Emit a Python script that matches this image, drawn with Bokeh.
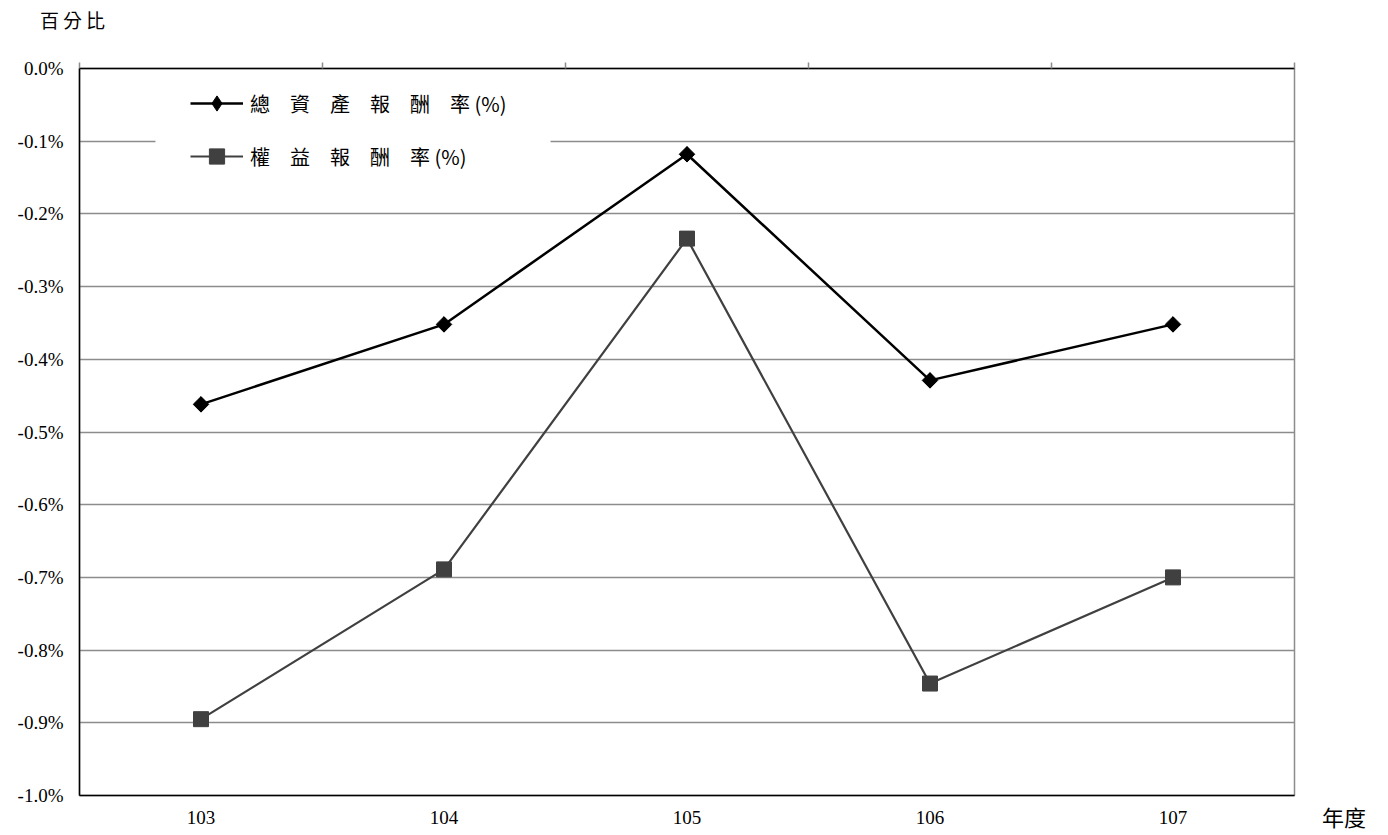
import math
from bokeh.plotting import figure
from bokeh.layouts import row, column
from bokeh.models import (Range1d, LinearAxis, FixedTicker, PrintfTickFormatter,
                          CustomJSTickFormatter, Legend, LegendItem, Div, BoxAnnotation)
from bokeh.embed import file_html
from bokeh.resources import INLINE

years = ["103", "104", "105", "106", "107"]
roa = [-0.462, -0.352, -0.118, -0.429, -0.352]
roe = [-0.895, -0.689, -0.234, -0.846, -0.700]
y_ticks = [0.0, -0.1, -0.2, -0.3, -0.4, -0.5, -0.6, -0.7, -0.8, -0.9, -1.0]
roa_label = "總\u3000資\u3000產\u3000報\u3000酬\u3000率 (%)"
roe_label = "權\u3000益\u3000報\u3000酬\u3000率 (%)"
y_title = "百分比"
x_title = "年度"

xs = [i + 1 for i in range(len(years))]

NUM_FONT = "Liberation Serif"
CJK_FONT = "Noto Sans CJK TC"
HEAD = 40  # height of the title strip above the figure

p = figure(frame_width=1215, frame_height=727,
           min_border_left=79, min_border_right=28, min_border_top=68 - HEAD, min_border_bottom=38,
           x_range=Range1d(0.5, len(years) + 0.5), y_range=Range1d(-1.0, 0.0),
           output_backend="svg", toolbar_location=None,
           x_axis_location=None, y_axis_location=None)

p.background_fill_color = "white"
p.border_fill_color = "white"
p.outline_line_color = "#8c8c8c"
p.outline_line_width = 1.5

# axes
left = LinearAxis(ticker=FixedTicker(ticks=y_ticks), formatter=PrintfTickFormatter(format="%.1f%%"))
left.axis_line_color = "black"
left.axis_line_width = 1.5
left.major_tick_out = 0
left.major_tick_in = 0
left.minor_tick_out = 0
left.minor_tick_in = 0
left.major_label_standoff = 16
left.major_label_text_font = NUM_FONT
left.major_label_text_font_size = "19px"
left.major_label_text_color = "black"
p.add_layout(left, "left")

bottom = LinearAxis(ticker=FixedTicker(ticks=xs),
                    major_label_overrides={x: y for x, y in zip(xs, years)})
bottom.axis_line_color = "black"
bottom.axis_line_width = 1.5
bottom.major_tick_out = 0
bottom.major_tick_in = 0
bottom.minor_tick_out = 0
bottom.minor_tick_in = 0
bottom.major_label_standoff = 15
bottom.major_label_text_font = NUM_FONT
bottom.major_label_text_font_size = "19px"
bottom.major_label_text_color = "black"
p.add_layout(bottom, "below")

top = LinearAxis(ticker=FixedTicker(ticks=[x - 0.5 for x in xs] + [xs[-1] + 0.5]),
                 formatter=CustomJSTickFormatter(code="return ''"))
top.axis_line_color = "black"
top.axis_line_width = 1.5
top.major_tick_out = 6
top.major_tick_in = 0
top.major_tick_line_color = "#8c8c8c"
top.major_tick_line_width = 1.5
top.minor_tick_out = 0
top.minor_tick_in = 0
top.major_label_standoff = 0
top.major_label_text_font_size = "1px"
p.add_layout(top, "above")

# grid
p.xgrid.visible = False
p.ygrid.ticker = FixedTicker(ticks=y_ticks[1:-1])
p.ygrid.grid_line_color = "#8c8c8c"
p.ygrid.grid_line_width = 1.5

# white box behind legend (hides gridline there)
p.add_layout(BoxAnnotation(left=0.5 + 76 / 243, right=0.5 + 471 / 243, top=-0.016, bottom=-0.16,
                           fill_color="white", fill_alpha=1.0, line_color=None, level="underlay"))

# series
l1 = p.line(xs, roa, line_color="black", line_width=2.5)
d1 = p.scatter(xs, roa, marker="diamond", size=15, fill_color="black", line_color="black")
m1 = p.scatter(xs, roa, marker="square", angle=math.pi / 4, size=11,
               fill_color="black", line_color="black")
l2 = p.line(xs, roe, line_color="#404040", line_width=2.2)
m2 = p.scatter(xs, roe, marker="square", size=15, fill_color="#404040", line_color="#404040")

legend = Legend(items=[LegendItem(label=roa_label, renderers=[l1, d1]),
                       LegendItem(label=roe_label, renderers=[l2, m2])],
                location=(111, 620))
legend.background_fill_alpha = 0
legend.border_line_color = None
legend.padding = 5
legend.spacing = 15
legend.glyph_width = 53
legend.glyph_height = 38
legend.label_height = 38
legend.label_standoff = 7
legend.label_text_font = CJK_FONT
legend.label_text_font_size = "20px"
legend.label_text_color = "black"
p.add_layout(legend)

head = Div(text=y_title, width=200, height=HEAD, margin=(0, 0, 0, 40),
           styles={"font-family": CJK_FONT, "font-size": "19px", "color": "black",
                   "line-height": "40px", "letter-spacing": "4px", "white-space": "nowrap"})

side = Div(text=x_title, width=60, height=30, margin=(801 - HEAD, 0, 0, 0),
           styles={"font-family": CJK_FONT, "font-size": "22px", "color": "black",
                   "line-height": "30px", "white-space": "nowrap"})

layout = column(head, row(p, side, spacing=0), spacing=0)
open("out.html", "w").write(file_html(layout, INLINE))
